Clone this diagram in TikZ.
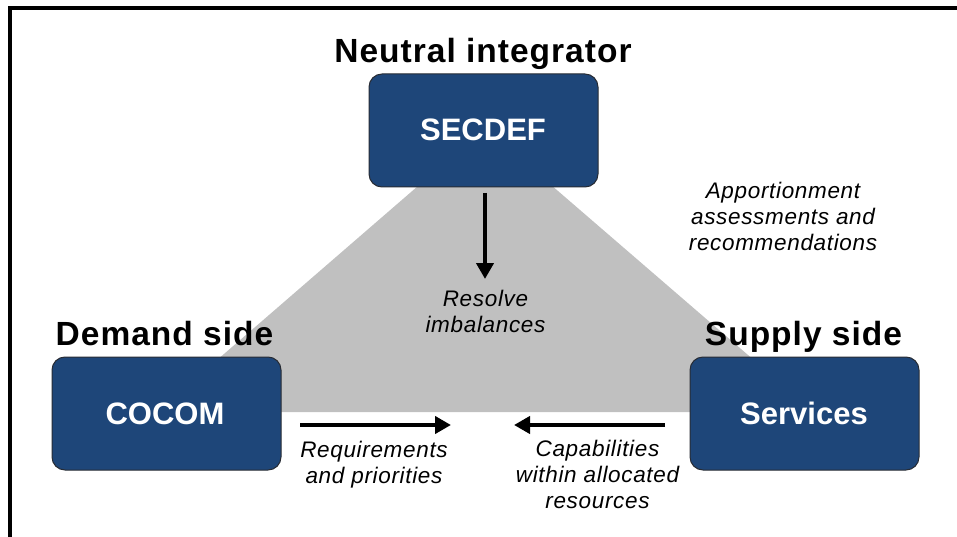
\documentclass[tikz,border=0pt]{standalone}
\usepackage{fontspec}
\setmainfont{Liberation Sans}
\newfontfamily\headfont[LetterSpace=3]{Liberation Sans}
\newfontfamily\notefont[LetterSpace=3]{Liberation Sans}
\usetikzlibrary{arrows.meta}
\definecolor{boxblue}{RGB}{30,70,121}
\definecolor{boxedge}{RGB}{40,44,52}
\definecolor{wedge}{RGB}{192,192,192}
\tikzset{
  rolebox/.style={draw=boxedge, line width=1pt, fill=boxblue, rounded corners=13pt,
    minimum width=229pt, minimum height=113pt, inner sep=0pt},
  rolelabel/.style={text=white, font=\fontsize{31}{36}\selectfont\bfseries, anchor=base, inner sep=0pt},
  sidetitle/.style={font=\headfont\fontsize{33.5}{38}\selectfont\bfseries, anchor=base, inner sep=0pt},
  note/.style={font=\notefont\fontsize{22.5}{25.8}\selectfont\itshape, align=center, anchor=base, inner sep=0pt},
  flow/.style={line width=4pt, -{Triangle[length=16pt,width=17pt]}},
}
\begin{document}
\begin{tikzpicture}[x=1pt, y=-1pt]
\useasboundingbox (0,0) rectangle (957,537);
\fill[white] (0,0) rectangle (957,537);
% outer frame, running past the right and bottom edges
\begin{scope}
  \clip (0,0) rectangle (957,537);
  \draw[line width=4pt] (10,8) rectangle (1000,600);
\end{scope}

% grey wedge behind the three roles
\coordinate (apex) at (485,128);
\coordinate (baseL) at (157,412);
\coordinate (baseR) at (814,412);
\fill[wedge] (apex) -- (baseL) -- (baseR) -- cycle;

% role boxes
\node[rolebox] (secdef) at (483.5,130.5) {};
\node[rolebox] (cocom) at (166.5,413.5) {};
\node[rolebox] (services) at (804.5,413.5) {};
\node[rolelabel] (secdefT) at (483,141) {SECDEF};
\node[rolelabel] (cocomT) at (165,424) {COCOM};
\node[rolelabel] (servicesT) at (804,424) {Services};

% headings above the boxes
\node[sidetitle] (neutral) at (483,63) {Neutral integrator};
\node[sidetitle] (demand) at (164.5,345) {Demand side};
\node[sidetitle] (supply) at (803.5,345) {Supply side};

% flows
\coordinate (downA) at (485,193);
\coordinate (downB) at (485,279);
\draw[flow] (downA) -- (downB);
\coordinate (reqA) at (300,425);
\coordinate (reqB) at (451,425);
\draw[flow] (reqA) -- (reqB);
\coordinate (capA) at (665,425);
\coordinate (capB) at (514,425);
\draw[flow] (capA) -- (capB);

% annotations (anchored on the baseline of their last line)
\node[note] (resolve) at (485.5,332.5) {Resolve\\imbalances};
\node[note] (require) at (374,483) {Requirements\\and priorities};
\node[note] (capab) at (597.5,508.5) {Capabilities\\within allocated\\resources};
\node[note] (apportion) at (783,250) {Apportionment\\assessments and\\recommendations};
\end{tikzpicture}
\end{document}
